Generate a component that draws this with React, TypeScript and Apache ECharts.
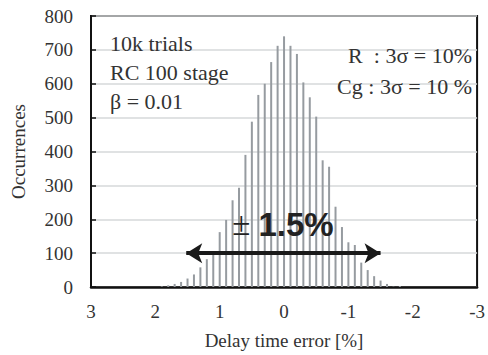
import React, { useEffect, useRef } from "react";
import * as echarts from "echarts";

// Delay time error bins [%] (axis inverted: 3 on the left, -3 on the right)
const errorBins: number[] = [
  1.9, 1.8, 1.7, 1.6, 1.5, 1.4, 1.3, 1.2, 1.1, 1.0, 0.9, 0.8, 0.7, 0.6, 0.5, 0.4, 0.3, 0.2, 0.1, 0.0,
  -0.1, -0.2, -0.3, -0.4, -0.5, -0.6, -0.7, -0.8, -0.9, -1.0, -1.1, -1.2, -1.3, -1.4, -1.5, -1.6, -1.7, -1.8,
];
// Occurrences per bin
const occurrences: number[] = [
  2, 5, 9, 15, 25, 37, 58, 82, 99, 162, 198, 256, 293, 390, 488, 567, 600, 664, 712, 740,
  712, 688, 604, 560, 503, 374, 355, 237, 177, 132, 124, 72, 50, 32, 19, 9, 1, 3,
];
const xTicks = { min: -3, max: 3, interval: 1 };
const yTicks = { min: 0, max: 800, interval: 100 };
const arrowRange = { from: 1.52, to: -1.5, level: 100 };
const notesLeft = ["10k trials", "RC 100 stage", "β = 0.01"];
const notesRight = ["R\u00a0 : 3σ = 10%", "Cg : 3σ = 10 %"];
const spreadLabel = { sign: "±", value: "1.5%" };

const SERIF = "'Liberation Serif', 'DejaVu Serif', serif";
const SANS = "'Liberation Sans', Arial, sans-serif";
const TXT = "#333";

export default function App() {
  const ref = useRef<HTMLDivElement>(null);
  useEffect(() => {
    if (!ref.current) return;
    const chart = echarts.init(ref.current, undefined, { renderer: "svg" });
    const data = errorBins.map((x, i) => [x, occurrences[i]]);
    chart.setOption({
      animation: false,
      backgroundColor: "#fff",
      grid: {
        left: 91,
        right: 6,
        top: 16,
        bottom: 68,
        show: true,
        borderColor: "#111",
        borderWidth: 2,
        backgroundColor: "transparent",
      },
      xAxis: {
        type: "value",
        inverse: true,
        min: xTicks.min,
        max: xTicks.max,
        interval: xTicks.interval,
        name: "Delay time error [%]",
        nameLocation: "middle",
        nameGap: 44,
        nameTextStyle: { fontFamily: SERIF, fontSize: 19, color: TXT },
        axisLine: { show: true, onZero: false, lineStyle: { color: "#111", width: 2.5 } },
        axisTick: { show: false },
        splitLine: { show: false },
        axisLabel: { fontFamily: SERIF, fontSize: 19, color: TXT, margin: 15 },
      },
      yAxis: {
        type: "value",
        min: yTicks.min,
        max: yTicks.max,
        interval: yTicks.interval,
        name: "Occurrences",
        nameLocation: "middle",
        nameRotate: 90,
        nameGap: 63,
        nameTextStyle: { fontFamily: SERIF, fontSize: 19, color: TXT },
        axisLine: { show: true, onZero: false, lineStyle: { color: "#111", width: 2 } },
        axisTick: { show: true, inside: true, length: 5, lineStyle: { color: "#111", width: 1.5 } },
        splitLine: { show: true, lineStyle: { color: "#d6d8da", width: 1.5 } },
        axisLabel: { fontFamily: SERIF, fontSize: 19, color: TXT, margin: 18 },
      },
      series: [
        {
          type: "bar",
          data,
          barWidth: 2,
          itemStyle: { color: "#969ba0" },
          silent: true,
          markLine: {
            silent: true,
            symbol: ["arrow", "arrow"],
            symbolSize: [15, 16],
            label: { show: false },
            lineStyle: { color: "#1a1a1a", width: 4, type: "solid" },
            emphasis: { disabled: true },
            data: [
              [
                { coord: [arrowRange.from, arrowRange.level] },
                { coord: [arrowRange.to, arrowRange.level] },
              ],
            ],
          },
        },
      ],
      graphic: [
        ...notesLeft.map((t, i) => ({
          type: "text",
          left: 110,
          top: 32 + i * 29,
          z: 100,
          style: { text: t, fontFamily: SERIF, fontSize: 22, fill: TXT },
          silent: true,
        })),
        ...notesRight.map((t, i) => ({
          type: "text",
          right: 16,
          top: 44 + i * 31,
          z: 100,
          style: { text: t, fontFamily: SERIF, fontSize: 22, fill: TXT },
          silent: true,
        })),
        {
          type: "text",
          x: 283,
          y: 224,
          z: 100,
          style: {
            text: `{a|${spreadLabel.sign}}{b|${spreadLabel.value}}`,
            align: "center",
            verticalAlign: "middle",
            rich: {
              a: { fontFamily: SERIF, fontSize: 33, fill: "#222", padding: [0, 8, 0, 0] },
              b: { fontFamily: SANS, fontSize: 33, fontWeight: "bold", fill: "#222" },
            },
          },
          silent: true,
        },
      ],
    });
    return () => chart.dispose();
  }, []);
  return <div ref={ref} style={{ width: 488, height: 355, position: "absolute", left: 0, top: 0 }} />;
}
